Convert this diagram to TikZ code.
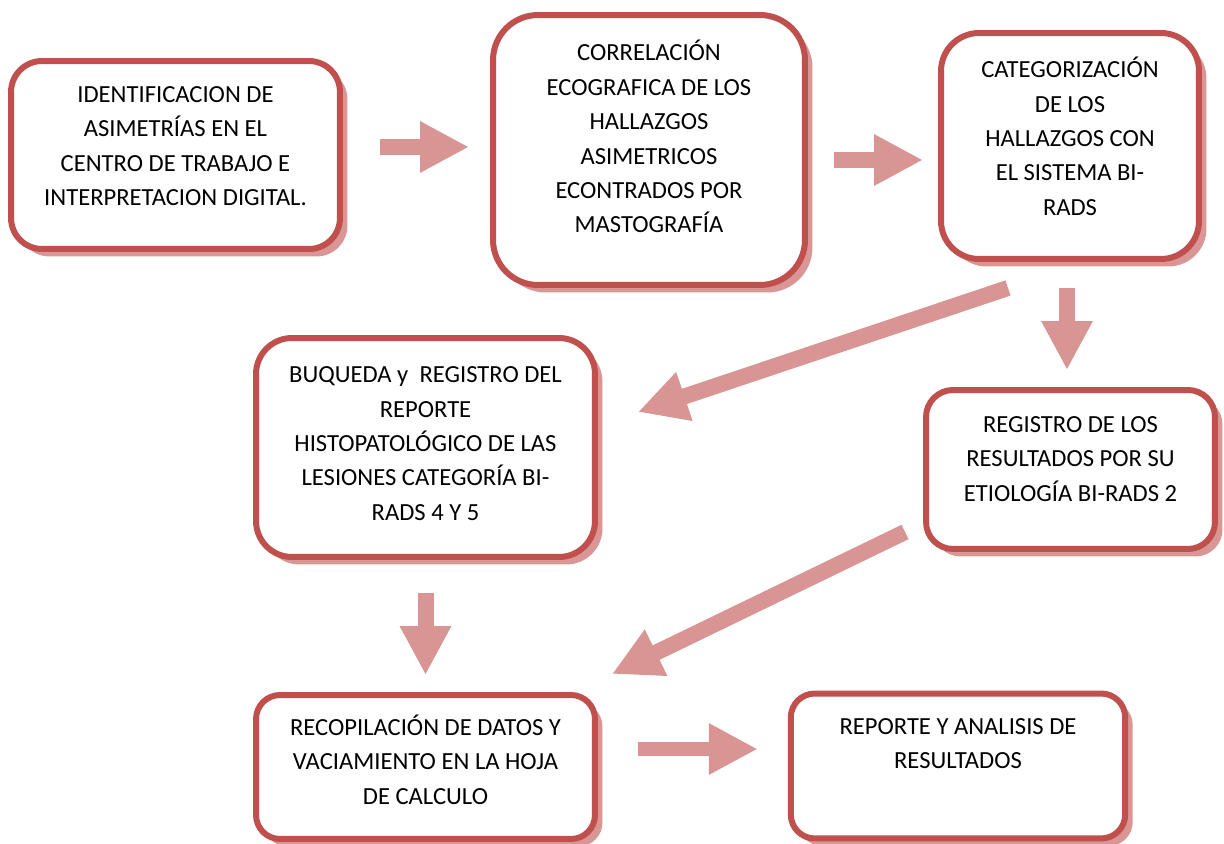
\documentclass[tikz,border=0pt]{standalone}
\usepackage{fontspec}
\setmainfont{Carlito}
\usetikzlibrary{arrows.meta,shadows}
\definecolor{rim}{HTML}{C0504D}
\definecolor{rimshade}{HTML}{D99694}
\definecolor{flow}{HTML}{D99594}
\tikzset{
  every node/.style={font=\fontsize{14}{19.6}\selectfont},
  box/.style={draw=rim, line width=0.12cm, fill=white, inner sep=0pt,
              drop shadow={shadow xshift=0.15cm, shadow yshift=-0.15cm,
                           fill=rimshade, opacity=1}},
  txt/.style={align=center, inner sep=0pt, anchor=base, text=black},
  blockarr/.style={-{Triangle[length=0.98cm, width=0.96cm]}, line width=0.32cm, draw=flow},
}

\begin{document}
\begin{tikzpicture}[x=0.02cm, y=-0.02cm]
\useasboundingbox (0,0) rectangle (1224,844);

% --- top row ---
\node[box, minimum width=6.58cm, minimum height=3.76cm, rounded corners=0.62cm] (ident) at (175.5,155) {};
\node[box, minimum width=6.24cm, minimum height=5.40cm, rounded corners=0.90cm] (corr) at (649,150) {};
\node[box, minimum width=5.16cm, minimum height=4.52cm, rounded corners=0.76cm] (categ) at (1070,146) {};

% --- middle row ---
\node[box, minimum width=6.78cm, minimum height=4.38cm, rounded corners=0.72cm] (busq) at (425.5,447.5) {};
\node[box, minimum width=5.78cm, minimum height=3.18cm, rounded corners=0.54cm] (regis) at (1070.5,469.5) {};

% --- bottom row ---
\node[box, minimum width=6.78cm, minimum height=2.88cm, rounded corners=0.48cm] (recop) at (425.5,767) {};
\node[box, minimum width=6.69cm, minimum height=2.90cm, rounded corners=0.48cm] (repor) at (958,766) {};

% --- texts (base = last line) ---
\node[txt] (ident-t) at ([shift={(0,147.7)}]ident.north)
  {IDENTIFICACION DE\\ASIMETRÍAS EN EL\\CENTRO DE TRABAJO E\\INTERPRETACION DIGITAL.};
\node[txt] (corr-t) at ([shift={(0,220.9)}]corr.north)
  {CORRELACIÓN\\ECOGRAFICA DE LOS\\HALLAZGOS\\ASIMETRICOS\\ECONTRADOS POR\\MASTOGRAFÍA};
\node[txt] (categ-t) at ([shift={(0,185.3)}]categ.north)
  {CATEGORIZACIÓN\\DE LOS\\HALLAZGOS CON\\EL SISTEMA BI-\\RADS};
\node[txt] (busq-t) at ([shift={(0,185.3)}]busq.north)
  {BUQUEDA y\ \ REGISTRO DEL\\REPORTE\\HISTOPATOLÓGICO DE LAS\\LESIONES CATEGORÍA BI-\\RADS 4 Y 5};
\node[txt] (regis-t) at ([shift={(0,114.1)}]regis.north)
  {REGISTRO DE LOS\\RESULTADOS POR SU\\ETIOLOGÍA BI-RADS 2};
\node[txt] (recop-t) at ([shift={(0,112.1)}]recop.north)
  {RECOPILACIÓN DE DATOS Y\\VACIAMIENTO EN LA HOJA\\DE CALCULO};
\node[txt] (repor-t) at ([shift={(0,78.1)}]repor.north)
  {REPORTE Y ANALISIS DE\\RESULTADOS};

% --- block arrows ---
\draw[blockarr] ([shift={(37,-8)}]ident.east) -- ([shift={(-21,-3)}]corr.west);
\draw[blockarr] ([shift={(26,10)}]corr.east) -- ([shift={(-15,14)}]categ.west);
\draw[blockarr] ([shift={(-3,26)}]categ.south) -- ([shift={(-3.5,-17)}]regis.north);
\draw[blockarr] ([shift={(-62,26)}]categ.south) -- ([shift={(40,-35.5)}]busq.east);
\draw[blockarr] ([shift={(-18,62.5)}]regis.west) -- ([shift={(186.5,-18)}]recop.north);
\draw[blockarr] ([shift={(0,33)}]busq.south) -- ([shift={(0,-17)}]recop.north);
\draw[blockarr, line width=0.27cm] ([shift={(40,-18)}]recop.east) -- ([shift={(-30,-17)}]repor.west);

\end{tikzpicture}
\end{document}
